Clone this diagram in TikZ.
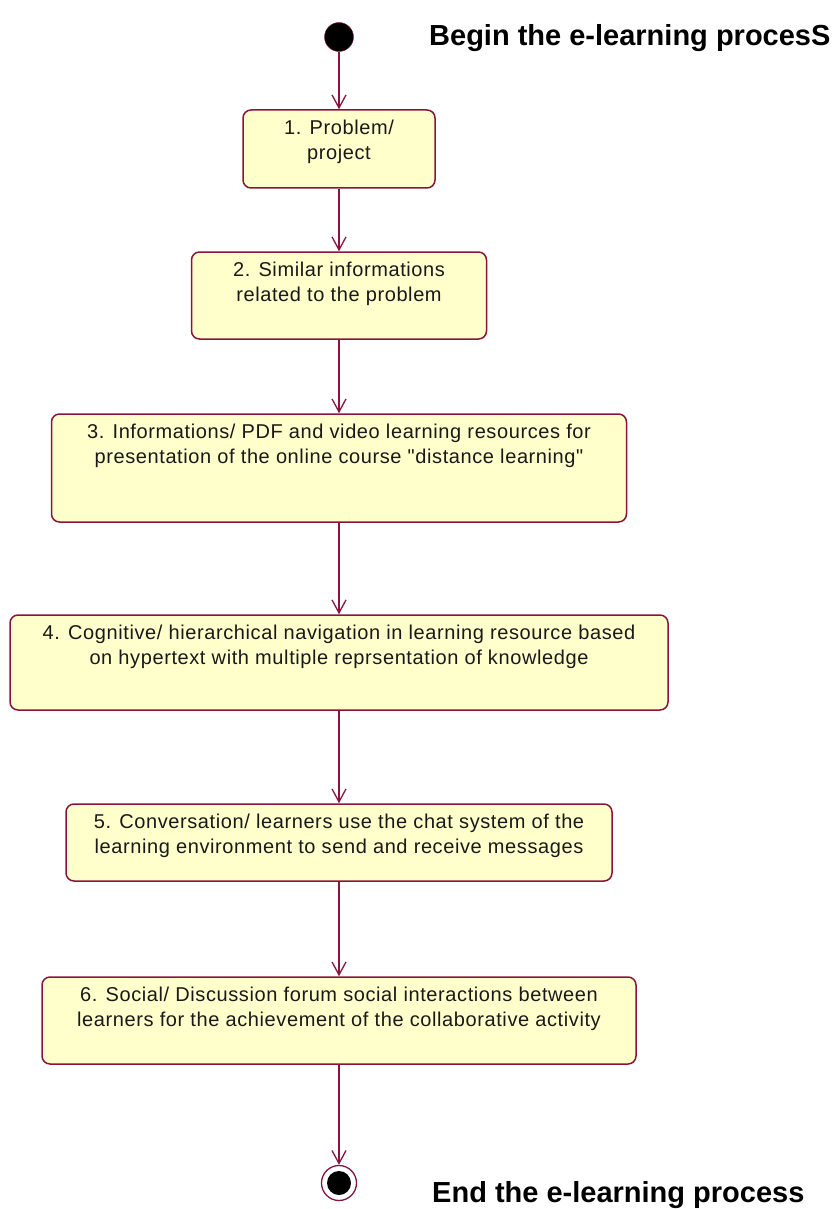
\documentclass[tikz,border=0pt]{standalone}
\usepackage{fontspec}
\setmainfont{Liberation Sans}
\newfontfamily\boxfont{Liberation Sans}[LetterSpace=3]
\usetikzlibrary{positioning,arrows.meta}
\definecolor{roseline}{RGB}{140,20,60}
\definecolor{rosefill}{RGB}{255,255,204}
\tikzset{
  act/.style={draw=roseline,fill=rosefill,line width=1.5pt,rounded corners=8pt,inner sep=0pt},
  acttext/.style={inner sep=0pt,align=center,text=black!90,font=\boxfont\fontsize{20}{25}\selectfont},
  flow/.style={draw=roseline,line width=1.3pt,-{Straight Barb[length=13pt,width=14pt,line width=1.3pt]}},
  title/.style={anchor=west,inner sep=0pt,font=\fontsize{29}{32}\selectfont\bfseries}
}
\begin{document}
\begin{tikzpicture}[x=1pt,y=-1pt]
      \useasboundingbox (0,0) rectangle (832,1209);
      %start
      \node[circle,fill=black,draw=roseline,minimum size=29pt,inner sep=0pt] (start) at (339,37) {};
      \node[title] (begintxt) at (429,38) {Begin the e-learning procesS};
      %activities
      \node[act,minimum width=192pt,minimum height=78pt] (p1) at (339,149) {};
      \node[acttext,below=11pt of p1.north] (p1txt) {1. Problem/\\project};
      \node[act,minimum width=295pt,minimum height=87pt] (p2) at (339,295.5) {};
      \node[acttext,below=11pt of p2.north] (p2txt) {2. Similar informations\\related to the problem};
      \node[act,minimum width=575pt,minimum height=108pt] (p3) at (339,468) {};
      \node[acttext,below=11pt of p3.north] (p3txt) {3. Informations/ PDF and video learning resources for\\presentation of the online course "distance learning"};
      \node[act,minimum width=658pt,minimum height=95pt] (p4) at (339,662.5) {};
      \node[acttext,below=11pt of p4.north] (p4txt) {4. Cognitive/ hierarchical navigation in learning resource based\\on hypertext with multiple reprsentation of knowledge};
      \node[act,minimum width=546pt,minimum height=77pt] (p5) at (339,842.5) {};
      \node[acttext,below=11pt of p5.north] (p5txt) {5. Conversation/ learners use the chat system of the\\learning environment to send and receive messages};
      \node[act,minimum width=594pt,minimum height=87pt] (p6) at (339,1020.5) {};
      \node[acttext,below=11pt of p6.north] (p6txt) {6. Social/ Discussion forum social interactions between\\learners for the achievement of the collaborative activity};
      %end
      \node[circle,draw=roseline,line width=1.3pt,fill=white,minimum size=35pt,inner sep=0pt] (stop) at (339,1183) {};
      \node[circle,fill=black,minimum size=24pt,inner sep=0pt] (stopdot) at (stop) {};
      \node[title] (endtxt) at (432,1195) {End the e-learning process};
      %arrows
      \draw[flow] (start) -- (p1);
      \draw[flow] (p1) -- (p2);
      \draw[flow] (p2) -- (p3);
      \draw[flow] (p3) -- (p4);
      \draw[flow] (p4) -- (p5);
      \draw[flow] (p5) -- (p6);
      \draw[flow] (p6) -- (stop);
\end{tikzpicture}
\end{document}
